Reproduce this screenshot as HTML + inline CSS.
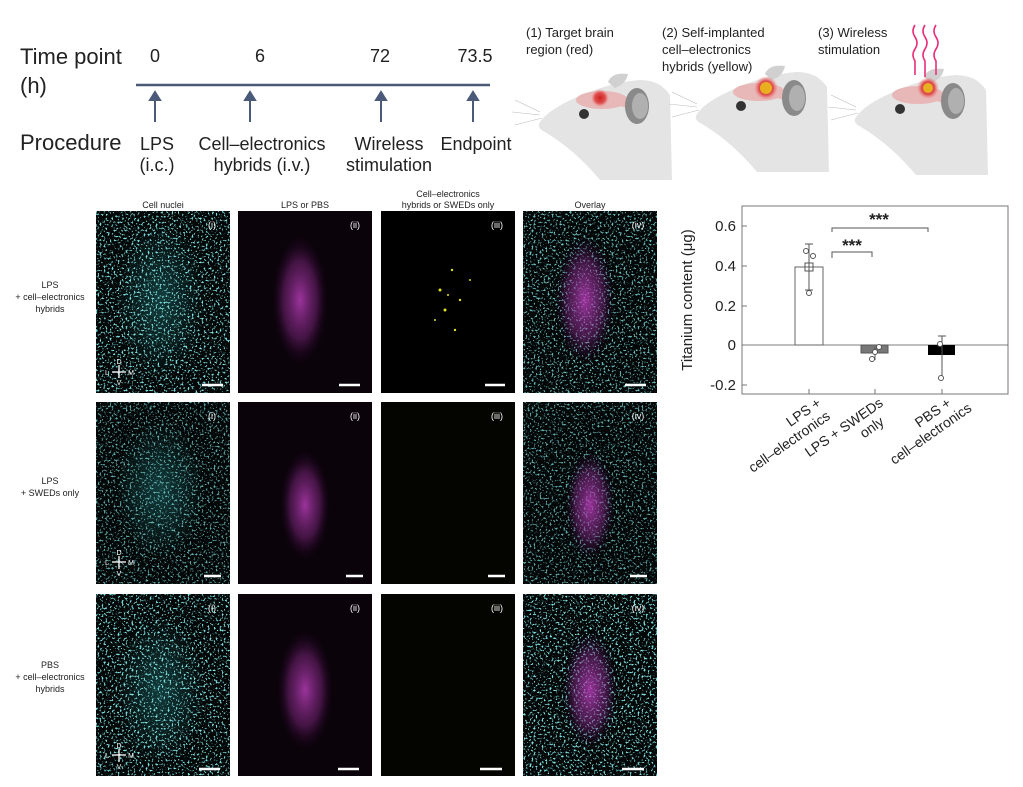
<!DOCTYPE html>
<html><head><meta charset="utf-8"><style>
body{margin:0;background:#fff;width:1023px;height:787px;overflow:hidden}
svg{display:block;font-family:"Liberation Sans",sans-serif}
</style></head><body>
<svg width="1023" height="787" viewBox="0 0 1023 787" xmlns="http://www.w3.org/2000/svg">
<defs>
<filter id="cy" x="0" y="0" width="1" height="1"><feTurbulence type="fractalNoise" baseFrequency="0.5" numOctaves="2" seed="3"/><feColorMatrix type="matrix" values="0 0 0 0 0.2  0 0 0 0 0.72  0 0 0 0 0.72  0 0 0 12 -7.1"/></filter>
<radialGradient id="mag"><stop offset="0" stop-color="#c040c0" stop-opacity="0.8"/><stop offset="0.6" stop-color="#8a2a8a" stop-opacity="0.45"/><stop offset="1" stop-color="#300030" stop-opacity="0"/></radialGradient>
<radialGradient id="cyc"><stop offset="0" stop-color="#30a0a0" stop-opacity="0.35"/><stop offset="1" stop-color="#30a0a0" stop-opacity="0"/></radialGradient>
<radialGradient id="red"><stop offset="0" stop-color="#d02020"/><stop offset="0.6" stop-color="#e05050"/><stop offset="1" stop-color="#e88" stop-opacity="0"/></radialGradient>
<g id="mouse">
<path d="M540,122 Q548,110 575,98 Q610,82 640,80 Q660,80 670,95 L672,180 L600,180 Q575,150 545,132 Q536,128 540,122 Z" fill="#e4e4e4"/>
<path d="M608,82 Q612,72 628,74 Q626,84 615,88Z" fill="#d0d0d0"/>
<ellipse cx="602" cy="100" rx="26" ry="9" fill="#e8b8b8"/>
<ellipse cx="630" cy="104" rx="10" ry="4" fill="#e8b8b8"/>
<ellipse cx="637" cy="106" rx="12" ry="18" fill="#8a8a8a"/>
<ellipse cx="640" cy="106" rx="8" ry="13" fill="#b0b0b0"/>
<circle cx="584" cy="114" r="5" fill="#333"/>
<path d="M540,112 L515,100 M540,115 L512,112 M542,118 L515,125" stroke="#bbb" stroke-width="0.6"/>
</g>
</defs>

<text x="20" y="64" font-size="22" fill="#222">Time point</text>
<text x="20" y="93" font-size="22" fill="#222">(h)</text>
<g font-size="18" fill="#222" text-anchor="middle">
<text x="155" y="62">0</text><text x="260" y="62">6</text><text x="380" y="62">72</text><text x="475" y="62">73.5</text>
</g>
<line x1="136" y1="85" x2="490" y2="85" stroke="#4a5a78" stroke-width="2.5"/>
<g stroke="#4a5a78" stroke-width="2" fill="#4a5a78">
<line x1="155" y1="122" x2="155" y2="98"/><path d="M150,100 L155,92 L160,100Z"/>
<line x1="250" y1="122" x2="250" y2="98"/><path d="M245,100 L250,92 L255,100Z"/>
<line x1="381" y1="122" x2="381" y2="98"/><path d="M376,100 L381,92 L386,100Z"/>
<line x1="473" y1="122" x2="473" y2="98"/><path d="M468,100 L473,92 L478,100Z"/>
</g>
<text x="20" y="150" font-size="22" fill="#222">Procedure</text>
<g font-size="18" fill="#222" text-anchor="middle">
<text x="157" y="150">LPS</text><text x="157" y="171">(i.c.)</text>
<text x="262" y="150">Cell–electronics</text><text x="262" y="171">hybrids (i.v.)</text>
<text x="389" y="150">Wireless</text><text x="389" y="171">stimulation</text>
<text x="476" y="150">Endpoint</text>
</g>

<g font-size="13" fill="#222">
<text x="526" y="37">(1) Target brain</text><text x="526" y="54">region (red)</text>
<text x="662" y="37">(2) Self-implanted</text><text x="662" y="54">cell–electronics</text><text x="662" y="71">hybrids (yellow)</text>
<text x="818" y="37">(3) Wireless</text><text x="818" y="54">stimulation</text>
</g>
<use href="#mouse"/>
<circle cx="600" cy="98" r="9" fill="url(#red)"/>
<use href="#mouse" transform="translate(157,-8)"/>
<circle cx="766" cy="88" r="12" fill="url(#red)"/><circle cx="766" cy="88" r="6" fill="#e8b020"/>
<use href="#mouse" transform="translate(316,-5)"/>
<circle cx="928" cy="88" r="11" fill="url(#red)"/><circle cx="928" cy="88" r="5" fill="#e8b020"/>
<g stroke="#e8307a" stroke-width="1.6" fill="none">
<path d="M915,25 q-4,6 0,12 q4,6 0,12 q-4,6 0,12 l0,14"/>
<path d="M925,25 q-4,6 0,12 q4,6 0,12 q-4,6 0,12 l0,16"/>
<path d="M936,25 q-4,6 0,12 q4,6 0,12 q-4,6 0,12 l0,14"/>
</g>

<g font-size="9" fill="#222" text-anchor="middle">
<text x="163" y="208">Cell nuclei</text>
<text x="305" y="208">LPS or PBS</text>
<text x="448" y="197">Cell–electronics</text><text x="448" y="208">hybrids or SWEDs only</text>
<text x="590" y="208">Overlay</text>
<text x="50" y="288">LPS</text><text x="50" y="300">+ cell–electronics</text><text x="50" y="312">hybrids</text>
<text x="50" y="484">LPS</text><text x="50" y="496">+ SWEDs only</text>
<text x="50" y="668">PBS</text><text x="50" y="680">+ cell–electronics</text><text x="50" y="692">hybrids</text>
</g>

<g>
<rect x="96" y="211" width="134" height="182" fill="#030707"/>
<ellipse cx="160" cy="300" rx="45" ry="80" fill="url(#cyc)"/>
<rect x="96" y="211" width="134" height="182" filter="url(#cy)"/>
<rect x="238" y="211" width="134" height="182" fill="#0a030a"/>
<ellipse cx="300" cy="300" rx="28" ry="65" fill="url(#mag)"/>
<rect x="381" y="211" width="134" height="182" fill="#000"/>
<g fill="#e0e020"><circle cx="440" cy="290" r="1.5"/><circle cx="452" cy="270" r="1.2"/><circle cx="445" cy="310" r="1.5"/><circle cx="460" cy="300" r="1.2"/><circle cx="435" cy="320" r="1"/><circle cx="470" cy="280" r="1"/><circle cx="455" cy="330" r="1.2"/><circle cx="448" cy="295" r="1"/></g>
<rect x="523" y="211" width="134" height="182" fill="#030707"/>
<rect x="523" y="211" width="134" height="182" filter="url(#cy)" opacity="0.85"/>
<ellipse cx="585" cy="300" rx="30" ry="65" fill="url(#mag)"/>

<rect x="96" y="402" width="134" height="182" fill="#030707"/>
<ellipse cx="160" cy="490" rx="45" ry="70" fill="url(#cyc)"/>
<rect x="96" y="402" width="134" height="182" filter="url(#cy)" opacity="0.75"/>
<rect x="238" y="402" width="134" height="182" fill="#0a030a"/>
<ellipse cx="305" cy="505" rx="25" ry="55" fill="url(#mag)"/>
<rect x="381" y="402" width="134" height="182" fill="#050500"/>
<rect x="523" y="402" width="134" height="182" fill="#030707"/>
<rect x="523" y="402" width="134" height="182" filter="url(#cy)" opacity="0.75"/>
<ellipse cx="590" cy="505" rx="25" ry="55" fill="url(#mag)"/>

<rect x="96" y="594" width="134" height="182" fill="#030707"/>
<ellipse cx="160" cy="690" rx="45" ry="75" fill="url(#cyc)"/>
<rect x="96" y="594" width="134" height="182" filter="url(#cy)"/>
<rect x="238" y="594" width="134" height="182" fill="#0a030a"/>
<ellipse cx="305" cy="690" rx="28" ry="60" fill="url(#mag)"/>
<rect x="381" y="594" width="134" height="182" fill="#050500"/>
<rect x="523" y="594" width="134" height="182" fill="#030707"/>
<rect x="523" y="594" width="134" height="182" filter="url(#cy)"/>
<ellipse cx="590" cy="690" rx="28" ry="60" fill="url(#mag)"/>
</g>
<g font-size="9" fill="#fff" text-anchor="middle">
<text x="212" y="228">(i)</text><text x="355" y="228">(ii)</text><text x="497" y="228">(iii)</text><text x="638" y="228">(iv)</text>
<text x="212" y="419">(i)</text><text x="355" y="419">(ii)</text><text x="497" y="419">(iii)</text><text x="638" y="419">(iv)</text>
<text x="212" y="611">(i)</text><text x="355" y="611">(ii)</text><text x="497" y="611">(iii)</text><text x="638" y="611">(iv)</text>
</g>
<g stroke="#fff" stroke-width="2.5">
<line x1="202" y1="385" x2="223" y2="385"/><line x1="339" y1="385" x2="360" y2="385"/><line x1="485" y1="385" x2="505" y2="385"/><line x1="625" y1="385" x2="646" y2="385"/>
<line x1="204" y1="576" x2="221" y2="576"/><line x1="346" y1="576" x2="363" y2="576"/><line x1="488" y1="576" x2="505" y2="576"/><line x1="630" y1="576" x2="647" y2="576"/>
<line x1="199" y1="769" x2="220" y2="769"/><line x1="338" y1="769" x2="359" y2="769"/><line x1="480" y1="769" x2="502" y2="769"/><line x1="622" y1="769" x2="644" y2="769"/>
</g>
<g stroke="#fff" stroke-width="1.3">
<line x1="119" y1="365" x2="119" y2="378"/><line x1="112" y1="372" x2="126" y2="372"/>
<line x1="119" y1="556" x2="119" y2="569"/><line x1="112" y1="562" x2="126" y2="562"/>
<line x1="119" y1="749" x2="119" y2="762"/><line x1="112" y1="755" x2="126" y2="755"/>
</g>
<g fill="#fff" font-size="7" text-anchor="middle">
<text x="119" y="364">D</text><text x="107" y="375">L</text><text x="131" y="375">M</text><text x="119" y="385">V</text>
<text x="119" y="555">D</text><text x="107" y="565">L</text><text x="131" y="565">M</text><text x="119" y="576">V</text>
<text x="119" y="748">D</text><text x="107" y="758">L</text><text x="131" y="758">M</text><text x="119" y="769">V</text>
</g>

<rect x="742" y="206" width="266" height="188" fill="none" stroke="#777" stroke-width="1"/>
<line x1="742" y1="345" x2="1008" y2="345" stroke="#555" stroke-width="0.8"/>
<g stroke="#777"><line x1="742" y1="226" x2="747" y2="226"/><line x1="742" y1="266" x2="747" y2="266"/><line x1="742" y1="306" x2="747" y2="306"/><line x1="742" y1="385" x2="747" y2="385"/>
<line x1="809" y1="394" x2="809" y2="389"/><line x1="875" y1="394" x2="875" y2="389"/><line x1="942" y1="394" x2="942" y2="389"/></g>
<g font-size="15" fill="#222" text-anchor="end">
<text x="736" y="231">0.6</text><text x="736" y="271">0.4</text><text x="736" y="311">0.2</text><text x="736" y="350">0</text><text x="736" y="390">-0.2</text>
</g>
<text transform="translate(692,300) rotate(-90)" font-size="15" fill="#222" text-anchor="middle">Titanium content (μg)</text>
<rect x="795" y="267" width="28" height="78" fill="#fff" stroke="#666"/>
<rect x="861" y="345" width="27" height="8" fill="#777" stroke="#555"/>
<rect x="928" y="345" width="27" height="10" fill="#000"/>
<g stroke="#555" stroke-width="1" fill="none">
<line x1="809" y1="244" x2="809" y2="290"/><line x1="805" y1="244" x2="813" y2="244"/><line x1="805" y1="290" x2="813" y2="290"/>
<rect x="805" y="263" width="8" height="8"/>
<line x1="875" y1="347" x2="875" y2="360"/>
<line x1="942" y1="336" x2="942" y2="376"/><line x1="938" y1="336" x2="946" y2="336"/>
<circle cx="806" cy="251" r="2.5" fill="#fff"/><circle cx="813" cy="256" r="2.5" fill="#fff"/><circle cx="809" cy="293" r="2.5" fill="#fff"/>
<circle cx="875" cy="352" r="2.5" fill="#fff"/><circle cx="879" cy="347" r="2.5" fill="#fff"/><circle cx="872" cy="359" r="2.5" fill="#fff"/>
<circle cx="940" cy="344" r="2.5" fill="#fff"/><circle cx="941" cy="378" r="2.5" fill="#fff"/>
<path d="M832,258 L832,252 L872,252 L872,257"/>
<path d="M832,232 L832,228 L928,228 L928,232"/>
</g>
<g font-size="17" fill="#222" text-anchor="middle" font-weight="bold"><text x="852" y="251">***</text><text x="879" y="225">***</text></g>
<g font-size="14" fill="#222" text-anchor="end">
<text transform="translate(822,405) rotate(-35)"><tspan x="0" y="0">LPS +</tspan><tspan x="0" y="16">cell–electronics</tspan></text>
<text transform="translate(884,405) rotate(-35)"><tspan x="0" y="0">LPS + SWEDs</tspan><tspan x="-10" y="16">only</tspan></text>
<text transform="translate(952,405) rotate(-35)"><tspan x="0" y="0">PBS +</tspan><tspan x="14" y="16">cell–electronics</tspan></text>
</g>
</svg>
</body></html>
